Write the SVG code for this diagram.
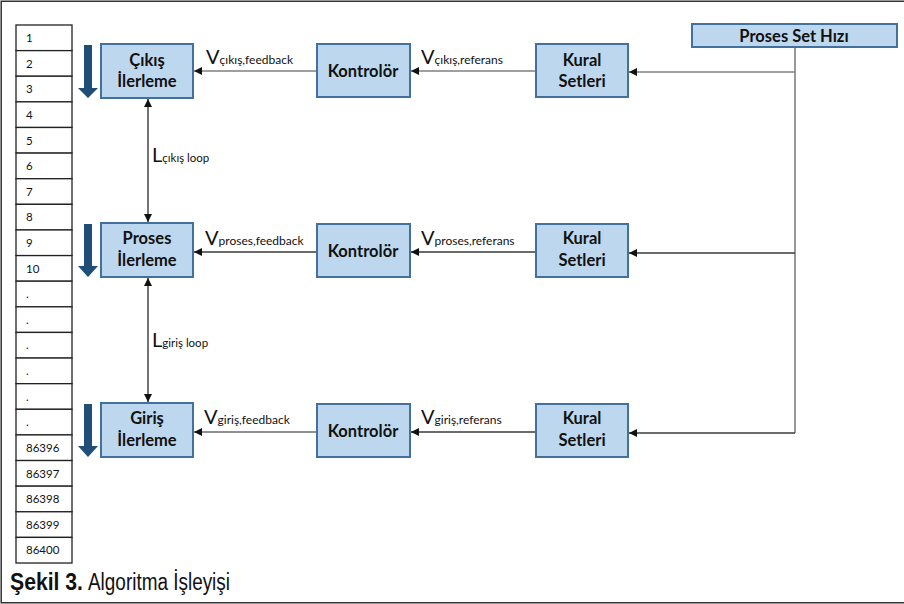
<svg xmlns="http://www.w3.org/2000/svg" width="904" height="604" viewBox="0 0 904 604">
  <style>
    .box { fill: #BDD7EE; stroke: #41719C; stroke-width: 2; }
    .cell { fill: #ffffff; stroke: #222; stroke-width: 1.3; }
    .num { font-family: Lato, "Liberation Sans", sans-serif; font-size: 11.5px; fill: #111; }
    .lbl { font-family: Lato, "Liberation Sans", sans-serif; font-weight: bold; font-size: 16.5px; fill: #111; text-anchor: middle; }
    .v { font-family: Lato, "Liberation Sans", sans-serif; font-size: 20px; fill: #111; }
    .sub { font-size: 12px; }
    .subl { font-size: 11.5px; }
    .cap { font-family: "Liberation Sans", Arial, sans-serif; font-size: 23px; fill: #111; }
    .down { fill: #1F4E79; }
    .g { stroke: #7f7f7f; stroke-width: 1.6; fill: none; }
    .d { stroke: #3a3a3a; stroke-width: 1.4; fill: none; }
    .k { stroke: #222; stroke-width: 1.2; fill: none; }
  </style>
  <defs>
    <marker id="ah" viewBox="0 0 10 10" refX="10" refY="5" markerWidth="8" markerHeight="8" markerUnits="userSpaceOnUse" orient="auto">
      <path d="M0,0 L10,5 L0,10 z" fill="#111"/>
    </marker>
    <marker id="ahs" viewBox="0 0 10 10" refX="10" refY="5" markerWidth="8" markerHeight="8" markerUnits="userSpaceOnUse" orient="auto-start-reverse">
      <path d="M0,0 L10,5 L0,10 z" fill="#111"/>
    </marker>
  </defs>

  <rect x="0" y="0" width="904" height="604" fill="#ffffff"/>
  <!-- frame: top, left and bottom edges -->
  <path d="M906,1.2 H1.2 V602.8 H906" fill="none" stroke="#333" stroke-width="1.5"/>

  <!-- time-step table -->
  <g id="table">
    <rect class="cell" x="16" y="25" width="56" height="25.62"/>
    <rect class="cell" x="16" y="50.62" width="56" height="25.62"/>
    <rect class="cell" x="16" y="76.24" width="56" height="25.62"/>
    <rect class="cell" x="16" y="101.86" width="56" height="25.62"/>
    <rect class="cell" x="16" y="127.48" width="56" height="25.62"/>
    <rect class="cell" x="16" y="153.1" width="56" height="25.62"/>
    <rect class="cell" x="16" y="178.72" width="56" height="25.62"/>
    <rect class="cell" x="16" y="204.34" width="56" height="25.62"/>
    <rect class="cell" x="16" y="229.96" width="56" height="25.62"/>
    <rect class="cell" x="16" y="255.58" width="56" height="25.62"/>
    <rect class="cell" x="16" y="281.2" width="56" height="25.62"/>
    <rect class="cell" x="16" y="306.82" width="56" height="25.62"/>
    <rect class="cell" x="16" y="332.44" width="56" height="25.62"/>
    <rect class="cell" x="16" y="358.06" width="56" height="25.62"/>
    <rect class="cell" x="16" y="383.68" width="56" height="25.62"/>
    <rect class="cell" x="16" y="409.3" width="56" height="25.62"/>
    <rect class="cell" x="16" y="434.92" width="56" height="25.62"/>
    <rect class="cell" x="16" y="460.54" width="56" height="25.62"/>
    <rect class="cell" x="16" y="486.16" width="56" height="25.62"/>
    <rect class="cell" x="16" y="511.78" width="56" height="25.62"/>
    <rect class="cell" x="16" y="537.4" width="56" height="25.62"/>
    <text class="num" x="26" y="42">1</text>
    <text class="num" x="26" y="67.6">2</text>
    <text class="num" x="26" y="93.2">3</text>
    <text class="num" x="26" y="118.9">4</text>
    <text class="num" x="26" y="144.5">5</text>
    <text class="num" x="26" y="170.1">6</text>
    <text class="num" x="26" y="195.7">7</text>
    <text class="num" x="26" y="221.3">8</text>
    <text class="num" x="26" y="247">9</text>
    <text class="num" x="26" y="272.6">10</text>
    <text class="num" x="26" y="298.2">.</text>
    <text class="num" x="26" y="323.8">.</text>
    <text class="num" x="26" y="349.4">.</text>
    <text class="num" x="26" y="375.1">.</text>
    <text class="num" x="26" y="400.7">.</text>
    <text class="num" x="26" y="426.3">.</text>
    <text class="num" x="26" y="451.9">86396</text>
    <text class="num" x="26" y="477.5">86397</text>
    <text class="num" x="26" y="503.2">86398</text>
    <text class="num" x="26" y="528.8">86399</text>
    <text class="num" x="26" y="554.4">86400</text>
  </g>

  <!-- direction arrows -->
  <path class="down" d="M84,45 H92 V88 H98 L88,98 L78,88 H84 Z"/>
  <path class="down" d="M84,224 H92 V266 H98 L88,277 L78,266 H84 Z"/>
  <path class="down" d="M84,404 H92 V446 H98 L88,457 L78,446 H84 Z"/>

  <!-- connectors -->
  <g id="connectors">
    <path class="g" d="M795,47 V433"/>
    <path class="g" d="M795,72 H629" marker-end="url(#ah)"/>
    <path class="d" d="M795,253 H629" marker-end="url(#ah)"/>
    <path class="d" d="M795,433 H629" marker-end="url(#ah)"/>
    <path class="g" d="M536,71 H411" marker-end="url(#ah)"/>
    <path class="d" d="M536,252 H411" marker-end="url(#ah)"/>
    <path class="d" d="M536,432 H411" marker-end="url(#ah)"/>
    <path class="g" d="M317,71 H194" marker-end="url(#ah)"/>
    <path class="d" d="M317,252 H194" marker-end="url(#ah)"/>
    <path class="k" d="M317,432 H194" marker-end="url(#ah)"/>
    <path class="d" d="M148,99 V222" marker-start="url(#ahs)" marker-end="url(#ah)"/>
    <path class="d" d="M148,278 V402" marker-start="url(#ahs)" marker-end="url(#ah)"/>
  </g>

  <!-- connector labels -->
  <g id="labels">
    <text class="v" x="206" y="64">V<tspan class="sub">çıkış,feedback</tspan></text>
    <text class="v" x="421" y="64">V<tspan class="sub">çıkış,referans</tspan></text>
    <text class="v" x="205" y="245">V<tspan class="sub">proses,feedback</tspan></text>
    <text class="v" x="421" y="245">V<tspan class="sub">proses,referans</tspan></text>
    <text class="v" x="204" y="424">V<tspan class="sub">giriş,feedback</tspan></text>
    <text class="v" x="421" y="424">V<tspan class="sub">giriş,referans</tspan></text>
    <text class="v" x="152" y="162">L<tspan class="subl">çıkış loop</tspan></text>
    <text class="v" x="152" y="347">L<tspan class="subl">giriş loop</tspan></text>
  </g>

  <!-- nodes -->
  <g id="proses-set-hizi">
    <rect class="box" x="692" y="24" width="205" height="23"/>
    <text class="lbl" x="794" y="42">Proses Set Hızı</text>
  </g>

  <g id="cikis-ilerleme">
    <rect class="box" x="101" y="44" width="92" height="54"/>
    <text class="lbl" x="147" y="66">Çıkış</text>
    <text class="lbl" x="147" y="87">İlerleme</text>
  </g>
  <g id="kontrolor-1">
    <rect class="box" x="317" y="44" width="93" height="53"/>
    <text class="lbl" x="363" y="77">Kontrolör</text>
  </g>
  <g id="kural-setleri-1">
    <rect class="box" x="536" y="44" width="92" height="53"/>
    <text class="lbl" x="582" y="66">Kural</text>
    <text class="lbl" x="582" y="87">Setleri</text>
  </g>

  <g id="proses-ilerleme">
    <rect class="box" x="101" y="223" width="92" height="54"/>
    <text class="lbl" x="147" y="244">Proses</text>
    <text class="lbl" x="147" y="266">İlerleme</text>
  </g>
  <g id="kontrolor-2">
    <rect class="box" x="317" y="224" width="93" height="53"/>
    <text class="lbl" x="363" y="257">Kontrolör</text>
  </g>
  <g id="kural-setleri-2">
    <rect class="box" x="536" y="224" width="92" height="53"/>
    <text class="lbl" x="582" y="244">Kural</text>
    <text class="lbl" x="582" y="266">Setleri</text>
  </g>

  <g id="giris-ilerleme">
    <rect class="box" x="101" y="403" width="92" height="54"/>
    <text class="lbl" x="147" y="424">Giriş</text>
    <text class="lbl" x="147" y="446">İlerleme</text>
  </g>
  <g id="kontrolor-3">
    <rect class="box" x="317" y="404" width="93" height="53"/>
    <text class="lbl" x="363" y="437">Kontrolör</text>
  </g>
  <g id="kural-setleri-3">
    <rect class="box" x="536" y="404" width="92" height="53"/>
    <text class="lbl" x="582" y="424">Kural</text>
    <text class="lbl" x="582" y="446">Setleri</text>
  </g>

  <!-- caption -->
  <text class="cap" x="10" y="590" font-weight="bold" textLength="73" lengthAdjust="spacingAndGlyphs">Şekil 3.</text>
  <text class="cap" x="88" y="590" textLength="142" lengthAdjust="spacingAndGlyphs">Algoritma İşleyişi</text>
</svg>
